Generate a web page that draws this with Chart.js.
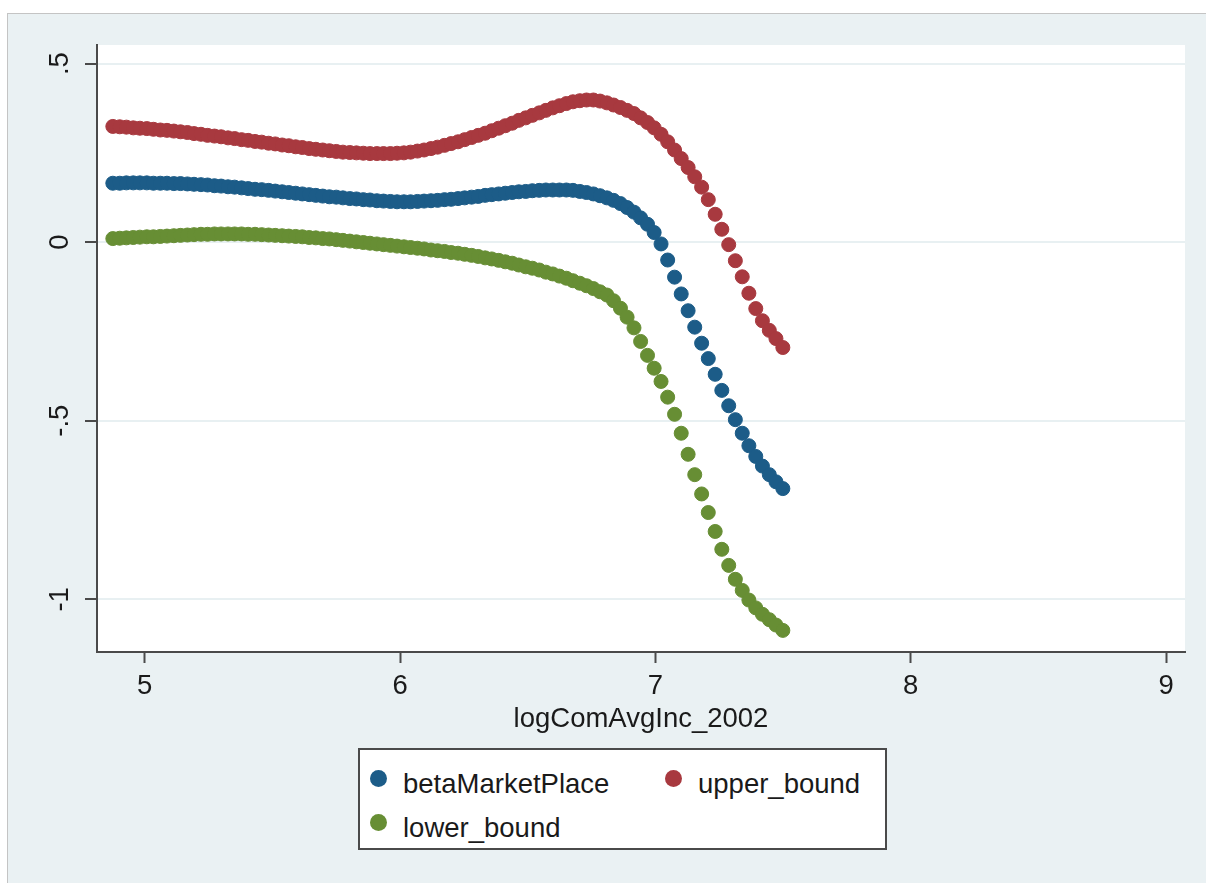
<!DOCTYPE html>
<html>
<head>
<meta charset="utf-8">
<script src="https://cdn.jsdelivr.net/npm/chart.js@4.4.1/dist/chart.umd.min.js"></script>
<style>
  body { margin: 0; background: #fff; font-family: "Liberation Sans", Arial, sans-serif; }
  #panel { position: absolute; left: 7px; top: 13px; right: 0; bottom: 0;
           background: #eaf1f3; border-top: 1px solid #c4c4c4; border-left: 1px solid #c4c4c4; }
  #myChart { position: absolute; left: 0; top: 0; }
  #legend { position: absolute; left: 358px; top: 748px; width: 525px; height: 98px;
            background: #fff; border: 2px solid #4a4a4a; }
  #legend .dot { position: absolute; width: 17px; height: 17px; border-radius: 50%; }
  #legend .txt { position: absolute; font-size: 27.5px; line-height: 27px; color: #1a1a1a; white-space: nowrap; }
</style>
</head>
<body>
<div id="panel"></div>
<canvas id="myChart" width="1206" height="883"></canvas>
<div id="legend"></div>
<script>
// x grid of the plotted points
var xValues = [4.875, 4.902, 4.928, 4.955, 4.981, 5.008, 5.034, 5.061, 5.087, 5.114,
  5.140, 5.167, 5.193, 5.220, 5.246, 5.273, 5.299, 5.326, 5.352, 5.379,
  5.405, 5.432, 5.458, 5.485, 5.511, 5.538, 5.564, 5.591, 5.617, 5.644,
  5.670, 5.697, 5.723, 5.750, 5.776, 5.803, 5.829, 5.856, 5.882, 5.909,
  5.935, 5.962, 5.988, 6.015, 6.041, 6.068, 6.094, 6.121, 6.147, 6.174,
  6.200, 6.227, 6.253, 6.280, 6.306, 6.333, 6.359, 6.386, 6.412, 6.439,
  6.465, 6.492, 6.518, 6.545, 6.571, 6.598, 6.624, 6.651, 6.677, 6.704,
  6.730, 6.757, 6.783, 6.810, 6.836, 6.863, 6.889, 6.916, 6.942, 6.969,
  6.995, 7.022, 7.048, 7.075, 7.101, 7.128, 7.154, 7.181, 7.207, 7.234,
  7.260, 7.287, 7.313, 7.340, 7.366, 7.393, 7.419, 7.446, 7.472, 7.499];

var betaMarketPlace = [0.165, 0.165, 0.166, 0.166, 0.166, 0.166, 0.165, 0.165, 0.165, 0.164,
  0.164, 0.163, 0.162, 0.161, 0.160, 0.158, 0.157, 0.155, 0.154, 0.152,
  0.150, 0.148, 0.147, 0.145, 0.143, 0.141, 0.139, 0.137, 0.135, 0.133,
  0.131, 0.129, 0.127, 0.126, 0.124, 0.122, 0.121, 0.119, 0.118, 0.116,
  0.115, 0.114, 0.113, 0.113, 0.113, 0.114, 0.115, 0.116, 0.117, 0.119,
  0.120, 0.122, 0.124, 0.126, 0.128, 0.131, 0.133, 0.135, 0.137, 0.139,
  0.141, 0.142, 0.144, 0.145, 0.146, 0.146, 0.146, 0.146, 0.145, 0.142,
  0.139, 0.135, 0.130, 0.124, 0.117, 0.108, 0.097, 0.084, 0.068, 0.050,
  0.027, -0.005, -0.050, -0.098, -0.145, -0.192, -0.238, -0.283, -0.326, -0.370,
  -0.415, -0.458, -0.497, -0.535, -0.570, -0.600, -0.627, -0.651, -0.671, -0.690];

var upperBound = [0.324, 0.323, 0.322, 0.320, 0.319, 0.318, 0.316, 0.314, 0.313, 0.311,
  0.309, 0.307, 0.304, 0.302, 0.299, 0.297, 0.295, 0.292, 0.290, 0.287,
  0.285, 0.282, 0.280, 0.277, 0.275, 0.272, 0.270, 0.267, 0.265, 0.262,
  0.260, 0.258, 0.256, 0.254, 0.252, 0.251, 0.250, 0.249, 0.248, 0.248,
  0.248, 0.248, 0.249, 0.250, 0.252, 0.255, 0.258, 0.262, 0.266, 0.271,
  0.276, 0.281, 0.287, 0.293, 0.299, 0.305, 0.312, 0.319, 0.326, 0.333,
  0.341, 0.348, 0.355, 0.362, 0.369, 0.376, 0.382, 0.388, 0.393, 0.396,
  0.398, 0.398, 0.395, 0.390, 0.384, 0.377, 0.369, 0.360, 0.348, 0.335,
  0.320, 0.302, 0.281, 0.258, 0.234, 0.209, 0.183, 0.154, 0.119, 0.078,
  0.036, -0.007, -0.052, -0.097, -0.143, -0.186, -0.220, -0.247, -0.270, -0.295];

var lowerBound = [0.010, 0.011, 0.012, 0.013, 0.014, 0.015, 0.015, 0.016, 0.017, 0.018,
  0.019, 0.020, 0.021, 0.022, 0.022, 0.023, 0.023, 0.023, 0.023, 0.023,
  0.022, 0.022, 0.021, 0.020, 0.019, 0.018, 0.017, 0.016, 0.015, 0.013,
  0.012, 0.010, 0.009, 0.007, 0.005, 0.003, 0.001, -0.001, -0.003, -0.005,
  -0.007, -0.009, -0.011, -0.013, -0.015, -0.017, -0.019, -0.022, -0.024, -0.026,
  -0.029, -0.031, -0.034, -0.037, -0.040, -0.044, -0.047, -0.051, -0.055, -0.059,
  -0.064, -0.069, -0.073, -0.078, -0.084, -0.089, -0.095, -0.101, -0.108, -0.115,
  -0.122, -0.130, -0.139, -0.148, -0.164, -0.185, -0.210, -0.240, -0.278, -0.317,
  -0.353, -0.390, -0.434, -0.482, -0.535, -0.594, -0.651, -0.705, -0.757, -0.810,
  -0.860, -0.905, -0.944, -0.975, -1.002, -1.024, -1.042, -1.057, -1.072, -1.087];

var seriesNames = ['betaMarketPlace', 'upper_bound', 'lower_bound'];
var seriesColors = ['#1c5c88', '#a8393f', '#678e34'];

var xTicks = [5, 6, 7, 8, 9];
var yTicks = [-1, -0.5, 0, 0.5];
var yTickLabels = ['-1', '-.5', '0', '.5'];
var xTitle = 'logComAvgInc_2002';

var font = { family: '"Liberation Sans", Arial, sans-serif', size: 27.5 };
var axisColor = '#4a4a4a';

function toPoints(ys) {
  return ys.map(function (y, i) { return { x: xValues[i], y: y }; });
}

var datasets = [betaMarketPlace, upperBound, lowerBound].map(function (ys, i) {
  return {
    label: seriesNames[i],
    data: toPoints(ys),
    backgroundColor: seriesColors[i],
    borderColor: seriesColors[i],
    pointRadius: 7,
    pointBorderWidth: 1,
    showLine: false
  };
});

// fundo branco da área do gráfico
var plotBackground = {
  id: 'plotBackground',
  beforeDraw: function (chart) {
    var a = chart.chartArea, ctx = chart.ctx;
    ctx.save();
    ctx.fillStyle = '#ffffff';
    ctx.fillRect(a.left, a.top, a.right - a.left, a.bottom - a.top);
    ctx.restore();
  }
};

var ctx = document.getElementById('myChart');
var chart = new Chart(ctx, {
  type: 'scatter',
  data: { datasets: datasets },
  plugins: [plotBackground],
  options: {
    responsive: false,
    animation: false,
    devicePixelRatio: 1,
    layout: { padding: { left: 0, top: 45, right: 21, bottom: 147 } },
    plugins: { legend: { display: false }, tooltip: { enabled: false } },
    scales: {
      x: {
        type: 'linear',
        min: 4.813,
        max: 9.074,
        afterFit: function (s) { s.height = 84; },
        afterBuildTicks: function (s) { s.ticks = xTicks.map(function (v) { return { value: v }; }); },
        ticks: { font: font, color: '#1a1a1a', padding: 7, maxRotation: 0 },
        grid: { drawOnChartArea: false, tickLength: 11, tickColor: axisColor, tickWidth: 2 },
        border: { color: axisColor, width: 2 },
        title: { display: true, text: xTitle, font: font, color: '#1a1a1a', padding: 0 }
      },
      y: {
        type: 'linear',
        min: -1.1475,
        max: 0.552,
        afterFit: function (s) { s.width = 97; },
        afterBuildTicks: function (s) { s.ticks = yTicks.map(function (v) { return { value: v }; }); },
        ticks: {
          font: font, color: '#1a1a1a', padding: 9,
          minRotation: 90, maxRotation: 90, crossAlign: 'center',
          callback: function (v) { return yTickLabels[yTicks.indexOf(v)]; }
        },
        grid: { color: '#e8f0f2', lineWidth: 2, tickLength: 12, tickColor: axisColor, tickWidth: 2 },
        border: { color: axisColor, width: 2 }
      }
    }
  }
});

// legenda em HTML, duas colunas
var legend = document.getElementById('legend');
chart.data.datasets.forEach(function (ds, i) {
  var col = i % 2, row = Math.floor(i / 2);
  var dot = document.createElement('div');
  dot.className = 'dot';
  dot.style.background = ds.backgroundColor;
  dot.style.left = (10 + col * 295) + 'px';
  dot.style.top = (20 + row * 44) + 'px';
  var txt = document.createElement('div');
  txt.className = 'txt';
  txt.textContent = ds.label;
  txt.style.left = (43 + col * 295) + 'px';
  txt.style.top = (20 + row * 44) + 'px';
  legend.appendChild(dot);
  legend.appendChild(txt);
});
</script>
</body>
</html>
